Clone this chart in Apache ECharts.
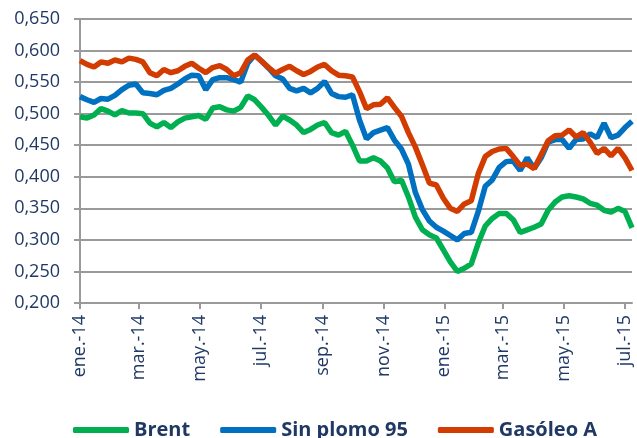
<!DOCTYPE html>
<html>
<head>
<meta charset="utf-8">
<script src="https://cdn.jsdelivr.net/npm/echarts@6/dist/echarts.min.js"></script>
<style>
  html, body { margin: 0; padding: 0; background: #fff; }
  #main { width: 637px; height: 438px; }
</style>
</head>
<body>
<div id="main"></div>
<script>
// semanas (fecha de cada lectura)
const dates = [
  '2014-01-01', '2014-01-08', '2014-01-15', '2014-01-22', '2014-01-29', '2014-02-05', '2014-02-12', '2014-02-19',
  '2014-02-26', '2014-03-05', '2014-03-12', '2014-03-19', '2014-03-26', '2014-04-02', '2014-04-09', '2014-04-16',
  '2014-04-23', '2014-04-30', '2014-05-07', '2014-05-14', '2014-05-21', '2014-05-28', '2014-06-04', '2014-06-11',
  '2014-06-18', '2014-06-25', '2014-07-02', '2014-07-09', '2014-07-16', '2014-07-23', '2014-07-30', '2014-08-06',
  '2014-08-13', '2014-08-20', '2014-08-27', '2014-09-03', '2014-09-10', '2014-09-17', '2014-09-24', '2014-10-01',
  '2014-10-08', '2014-10-15', '2014-10-22', '2014-10-29', '2014-11-05', '2014-11-12', '2014-11-19', '2014-11-26',
  '2014-12-03', '2014-12-10', '2014-12-17', '2014-12-24', '2014-12-31', '2015-01-07', '2015-01-14', '2015-01-21',
  '2015-01-28', '2015-02-04', '2015-02-11', '2015-02-18', '2015-02-25', '2015-03-04', '2015-03-11', '2015-03-18',
  '2015-03-25', '2015-04-01', '2015-04-08', '2015-04-15', '2015-04-22', '2015-04-29', '2015-05-06', '2015-05-13',
  '2015-05-20', '2015-05-27', '2015-06-03', '2015-06-10', '2015-06-17', '2015-06-24', '2015-07-01', '2015-07-08'
];

const brent = [
  0.495, 0.493, 0.498, 0.508, 0.504, 0.498, 0.505, 0.501, 0.501, 0.500, 0.485, 0.479, 0.486, 0.478, 0.487, 0.493,
  0.495, 0.497, 0.491, 0.509, 0.511, 0.506, 0.504, 0.510, 0.528, 0.522, 0.510, 0.497, 0.482, 0.496, 0.490, 0.482,
  0.470, 0.475, 0.482, 0.486, 0.470, 0.466, 0.472, 0.450, 0.425, 0.425, 0.430, 0.425, 0.414, 0.392, 0.395, 0.368,
  0.336, 0.316, 0.308, 0.303, 0.284, 0.265, 0.250, 0.255, 0.262, 0.295, 0.322, 0.334, 0.342, 0.342, 0.332, 0.312,
  0.316, 0.320, 0.325, 0.347, 0.360, 0.368, 0.370, 0.368, 0.365, 0.358, 0.355, 0.347, 0.344, 0.350, 0.345, 0.319
];

const sinPlomo95 = [
  0.527, 0.522, 0.518, 0.524, 0.523, 0.529, 0.538, 0.545, 0.547, 0.533, 0.532, 0.530, 0.537, 0.540, 0.547, 0.555,
  0.561, 0.560, 0.538, 0.554, 0.557, 0.557, 0.554, 0.550, 0.580, 0.593, 0.583, 0.572, 0.560, 0.555, 0.540, 0.536,
  0.540, 0.533, 0.540, 0.551, 0.532, 0.527, 0.526, 0.530, 0.490, 0.460, 0.470, 0.474, 0.478, 0.458, 0.444, 0.420,
  0.375, 0.348, 0.330, 0.320, 0.314, 0.307, 0.300, 0.310, 0.312, 0.345, 0.385, 0.395, 0.415, 0.424, 0.425, 0.410,
  0.430, 0.413, 0.430, 0.455, 0.459, 0.459, 0.445, 0.459, 0.460, 0.468, 0.462, 0.485, 0.462, 0.466, 0.478, 0.488
];

const gasoleoA = [
  0.584, 0.578, 0.574, 0.582, 0.580, 0.585, 0.582, 0.588, 0.586, 0.582, 0.565, 0.560, 0.570, 0.565, 0.568, 0.575,
  0.580, 0.572, 0.565, 0.573, 0.576, 0.570, 0.560, 0.565, 0.585, 0.593, 0.583, 0.573, 0.564, 0.570, 0.575, 0.568,
  0.562, 0.567, 0.574, 0.578, 0.568, 0.561, 0.560, 0.558, 0.535, 0.508, 0.514, 0.515, 0.525, 0.510, 0.496, 0.470,
  0.447, 0.419, 0.390, 0.387, 0.366, 0.350, 0.345, 0.357, 0.362, 0.405, 0.432, 0.440, 0.444, 0.445, 0.432, 0.418,
  0.420, 0.413, 0.435, 0.457, 0.465, 0.466, 0.474, 0.463, 0.470, 0.455, 0.437, 0.445, 0.433, 0.445, 0.430, 0.410
];

// marcas del eje X
const tickDates = ['2014-01-01', '2014-03-01', '2014-05-01', '2014-07-01', '2014-09-01', '2014-11-01',
  '2015-01-01', '2015-03-01', '2015-05-01', '2015-07-01'];
const tickLabels = ['ene.-14', 'mar.-14', 'may.-14', 'jul.-14', 'sep.-14', 'nov.-14',
  'ene.-15', 'mar.-15', 'may.-15', 'jul.-15'];

// days since 1 ene 2014
const toDay = (s) => {
    const p = s.split('-');
    return Math.round((Date.UTC(+p[0], +p[1] - 1, +p[2]) - Date.UTC(2014, 0, 1)) / 86400000);
};
const tickDays = tickDates.map(toDay);
const pairs = (vals) => vals.map((v, i) => [toDay(dates[i]), v]);

const navy = '#1f3864';
const grey = '#9a9a9a';

let myChart = echarts.init(document.getElementById('main'));
myChart.setOption({
    animation: false,
    textStyle: { fontFamily: 'Open Sans' },
    grid: { left: 80, right: 5, top: 19, bottom: 135, containLabel: false, outerBoundsMode: 'none' },
    legend: {
        left: 68,
        top: 415,
        itemWidth: 56,
        itemHeight: 6,
        itemGap: 30,
        icon: 'roundRect',
        textStyle: { color: navy, fontSize: 20, fontWeight: 'bold', fontFamily: 'Open Sans' },
        data: ['Brent', 'Sin plomo 95', 'Gasóleo A']
    },
    xAxis: {
        type: 'value',
        min: 0,
        max: toDay('2015-07-08'),
        axisLine: { show: true, onZero: false, lineStyle: { color: grey, width: 2 } },
        axisTick: { show: true, length: 6, lineStyle: { color: grey, width: 2 }, customValues: tickDays },
        axisLabel: {
            customValues: tickDays,
            rotate: 90,
            margin: 12,
            color: navy,
            fontSize: 18,
            formatter: (v) => {
                const i = tickDays.indexOf(v);
                return i >= 0 ? tickLabels[i] : '';
            }
        },
        splitLine: { show: false }
    },
    yAxis: {
        type: 'value',
        min: 0.2,
        max: 0.65,
        interval: 0.05,
        axisLine: { show: true, lineStyle: { color: grey, width: 2 } },
        axisTick: { show: true, length: 6, lineStyle: { color: grey, width: 2 } },
        axisLabel: {
            margin: 20,
            color: navy,
            fontSize: 18,
            formatter: (v) => v.toFixed(3).replace('.', ',')
        },
        splitLine: { show: true, lineStyle: { color: grey, width: 2 } }
    },
    series: [{
        name: 'Brent',
        type: 'line',
        showSymbol: false,
        color: '#00b050',
        lineStyle: { width: 5.5 },
        data: pairs(brent)
    }, {
        name: 'Sin plomo 95',
        type: 'line',
        showSymbol: false,
        color: '#0070c0',
        lineStyle: { width: 5.5 },
        data: pairs(sinPlomo95)
    }, {
        name: 'Gasóleo A',
        type: 'line',
        showSymbol: false,
        color: '#d23c00',
        lineStyle: { width: 5.5 },
        data: pairs(gasoleoA)
    }]
});
</script>
</body>
</html>
